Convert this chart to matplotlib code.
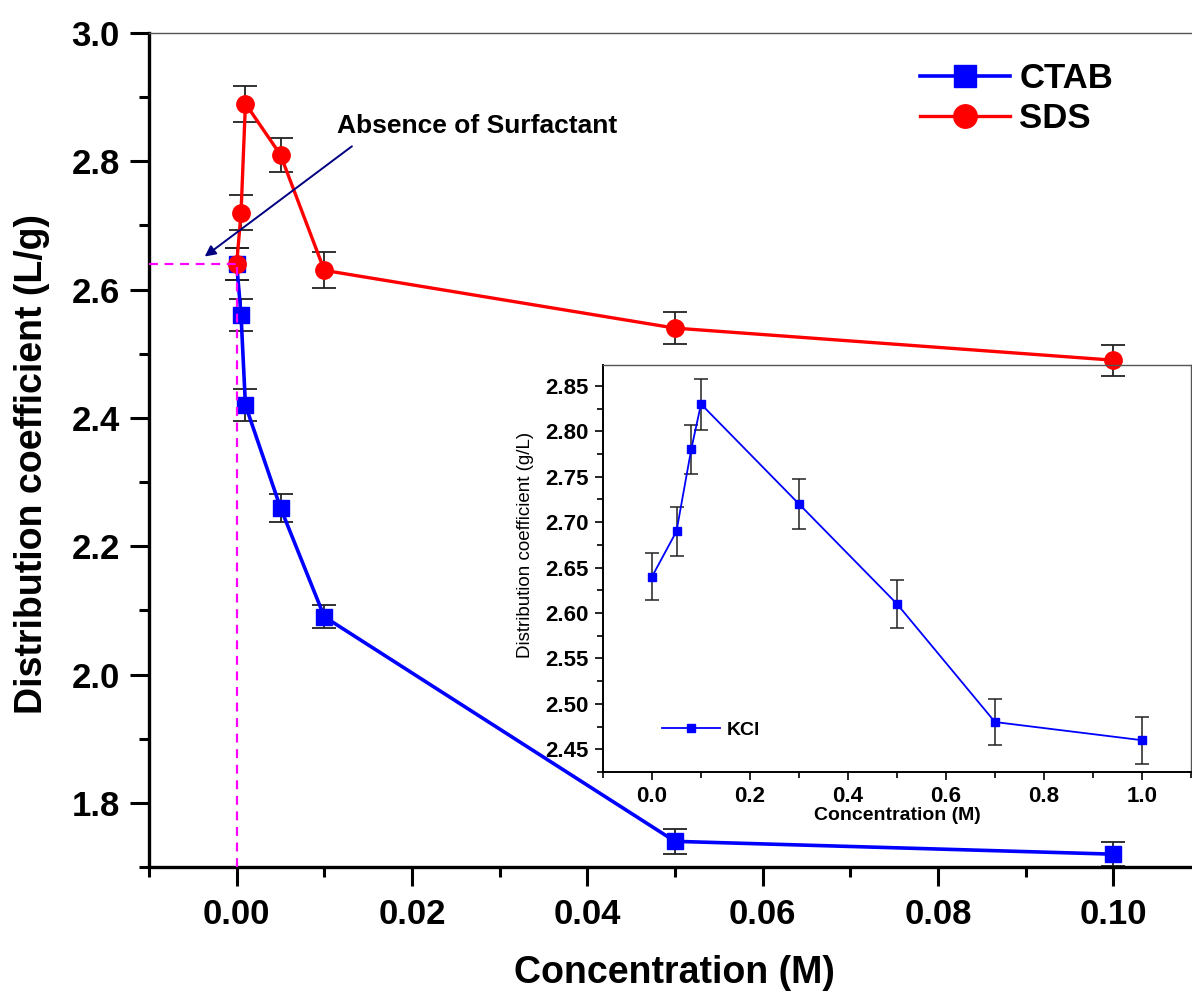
import numpy as np
import matplotlib.pyplot as plt

plt.rcParams['font.family'] = ['Liberation Sans', 'DejaVu Sans']

# surfactant series (main plot)
conc = [0.0, 0.0005, 0.001, 0.005, 0.01, 0.05, 0.1]
ctab = [2.64, 2.56, 2.42, 2.26, 2.09, 1.74, 1.72]
ctab_err = [0.025, 0.025, 0.025, 0.022, 0.018, 0.02, 0.019]
sds = [2.64, 2.72, 2.89, 2.81, 2.63, 2.54, 2.49]
sds_err = [0.025, 0.027, 0.028, 0.027, 0.028, 0.025, 0.024]

# KCl series (inset)
kcl_conc = [0.0, 0.05, 0.08, 0.1, 0.3, 0.5, 0.7, 1.0]
kcl = [2.64, 2.69, 2.78, 2.83, 2.72, 2.61, 2.48, 2.46]
kcl_err = [0.026, 0.027, 0.027, 0.028, 0.0275, 0.026, 0.025, 0.026]

blank_k = 2.64  # no surfactant

W, H = 1192, 994
fig = plt.figure(figsize=(W / 100, H / 100), dpi=100)

# main axes
ax = fig.add_axes([149 / W, 1 - 867 / H, 1052 / W, 834 / H])
ax.set_xlim(-0.01, 0.11)
ax.set_ylim(1.7, 3.0)

ax.plot([-0.01, conc[0]], [blank_k, blank_k], color='#ff00ff', lw=1.6, dashes=(4, 3), zorder=4)
ax.plot([conc[0], conc[0]], [1.7, blank_k], color='#ff00ff', lw=1.6, dashes=(4, 3), zorder=4)

ax.errorbar(conc, ctab, yerr=ctab_err, fmt='none', ecolor='#222222', elinewidth=1.3,
            capsize=8.3, capthick=1.3, zorder=2)
ax.errorbar(conc, sds, yerr=sds_err, fmt='none', ecolor='#222222', elinewidth=1.3,
            capsize=8.3, capthick=1.3, zorder=2)
ax.plot(conc, ctab, color='#0000ff', lw=2.6, marker='s', ms=11.5, label='CTAB', zorder=3)
ax.plot(conc, sds, color='#ff0000', lw=2.4, marker='o', ms=12.5, label='SDS', zorder=3)

ax.annotate('', xy=(-0.0039, 2.649), xytext=(0.0134, 2.826),
            arrowprops=dict(arrowstyle='-|>', color='#000080', lw=1.4, mutation_scale=16))
ax.text(0.0115, 2.844, 'Absence of Surfactant', fontsize=19, fontweight='bold', va='baseline')

ax.set_xticks(np.arange(0, 0.101, 0.02))
ax.set_xticks(np.arange(-0.01, 0.11, 0.02), minor=True)
ax.set_yticks(np.arange(1.8, 3.01, 0.2))
ax.set_yticks(np.arange(1.7, 3.01, 0.2), minor=True)
ax.xaxis.set_major_formatter(plt.FormatStrFormatter('%.2f'))
ax.yaxis.set_major_formatter(plt.FormatStrFormatter('%.1f'))
ax.tick_params(axis='both', which='major', direction='out', length=14, width=2.2,
               labelsize=25)
ax.tick_params(axis='both', which='minor', direction='out', length=7, width=2.2)
ax.tick_params(axis='x', which='major', pad=8)
ax.tick_params(axis='y', which='major', pad=7)
for t in ax.get_xticklabels() + ax.get_yticklabels():
    t.set_fontweight('bold')

ax.spines['left'].set_linewidth(2.4)
ax.spines['bottom'].set_linewidth(2.4)
ax.spines['top'].set_linewidth(1.0)
ax.spines['top'].set_color('#555555')
ax.spines['right'].set_visible(False)

leg = ax.legend(loc='upper left', bbox_to_anchor=(920 / W, 1 - 62 / H),
                bbox_transform=fig.transFigure, frameon=False, fontsize=25,
                handlelength=2.6, handletextpad=0.26, labelspacing=0.2,
                borderpad=0, borderaxespad=0, markerscale=1.35)
for t in leg.get_texts():
    t.set_fontweight('bold')

fig.text(674 / W, 1 - 973 / H, 'Concentration (M)', fontsize=27, fontweight='bold',
         ha='center', va='center')
fig.text(32 / W, 1 - 464 / H, 'Distribution coefficient (L/g)', fontsize=27,
         fontweight='bold', rotation=90, ha='center', va='center')

# inset: KCl
ins = fig.add_axes([603 / W, 1 - 772 / H, 588 / W, 407 / H])
ins.patch.set_alpha(0)
ins.set_xlim(-0.1, 1.1)
ins.set_ylim(2.425, 2.873)
ins.errorbar(kcl_conc, kcl, yerr=kcl_err, fmt='none', ecolor='#222222', elinewidth=1.1,
             capsize=4.8, capthick=1.1, zorder=2)
ins.plot(kcl_conc, kcl, color='#0000ff', lw=1.3, marker='s', ms=6, label='KCl', zorder=3)

ins.set_xticks(np.arange(0, 1.01, 0.2))
ins.set_xticks(np.arange(-0.1, 1.11, 0.2), minor=True)
ins.set_yticks(np.arange(2.45, 2.851, 0.05))
ins.set_yticks(np.arange(2.425, 2.873, 0.05), minor=True)
ins.xaxis.set_major_formatter(plt.FormatStrFormatter('%.1f'))
ins.yaxis.set_major_formatter(plt.FormatStrFormatter('%.2f'))
ins.tick_params(axis='both', which='major', direction='out', length=6, width=1.2,
                labelsize=16, pad=4)
ins.tick_params(axis='both', which='minor', direction='out', length=4, width=1.2)
for t in ins.get_xticklabels() + ins.get_yticklabels():
    t.set_fontweight('bold')
ins.spines['left'].set_linewidth(1.4)
ins.spines['bottom'].set_linewidth(1.4)
for s in ['top', 'right']:
    ins.spines[s].set_linewidth(1.0)
    ins.spines[s].set_color('#555555')

ileg = ins.legend(loc='upper left', bbox_to_anchor=(662 / W, 1 - 721 / H),
                  bbox_transform=fig.transFigure, frameon=False, fontsize=14,
                  handlelength=3.0, handletextpad=0.35, borderpad=0, borderaxespad=0)
for t in ileg.get_texts():
    t.set_fontweight('bold')

fig.text(897 / W, 1 - 815 / H, 'Concentration (M)', fontsize=14, fontweight='bold',
         ha='center', va='center')
fig.text(525 / W, 1 - 545 / H, 'Distribution coefficient (g/L)', fontsize=13.5,
         rotation=90, ha='center', va='center')

fig.savefig('out.png', dpi=100)
